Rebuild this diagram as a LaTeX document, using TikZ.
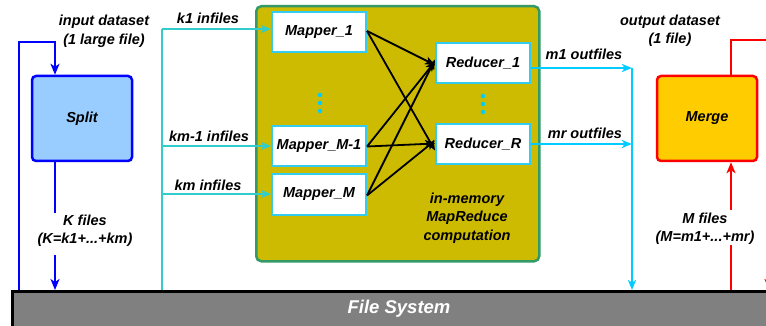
\documentclass[tikz,border=0pt]{standalone}
\usepackage{fontspec}
\setmainfont{Liberation Sans}
\usetikzlibrary{arrows.meta}

\definecolor{splitblue}{HTML}{0000FF}
\definecolor{splitfill}{HTML}{99CCFF}
\definecolor{infile}{HTML}{33CCCC}
\definecolor{outfile}{HTML}{00CCFF}
\definecolor{mrfill}{HTML}{CCBB00}
\definecolor{mrborder}{HTML}{339966}
\definecolor{taskborder}{HTML}{33CCEE}
\definecolor{mergefill}{HTML}{FFCC00}
\definecolor{mergered}{HTML}{FF0000}
\definecolor{fsgray}{HTML}{808080}

\tikzset{
  txt/.style={font=\fontsize{14.5}{18.5}\selectfont\bfseries\itshape, align=center, inner sep=0pt},
  stagebox/.style={rectangle, rounded corners=4pt, line width=2.5pt, minimum width=100pt, minimum height=85pt, txt},
  taskbox/.style={rectangle, draw=taskborder, fill=white, line width=2pt, minimum width=94pt, minimum height=40pt, txt},
  tip/.style={-{Stealth[length=11pt,width=9pt,inset=3pt]}},
  smalltip/.style={-{Stealth[length=10pt,width=8pt,inset=2.5pt]}},
  bluewire/.style={draw=splitblue, line width=2.2pt},
  inwire/.style={draw=infile, line width=2pt},
  outwire/.style={draw=outfile, line width=2pt},
  redwire/.style={draw=mergered, line width=2.5pt},
  shuffle/.style={draw=black, line width=1.8pt, smalltip},
  dotmark/.style={circle, fill=outfile, inner sep=0pt, minimum size=4.5pt},
}

\begin{document}
\begin{tikzpicture}[x=1pt,y=-1pt]
\useasboundingbox (0,0) rectangle (766,326);
\clip (0,0) rectangle (766,326);

% file system bar
\node[draw=black, fill=fsgray, line width=2.5pt, minimum width=790pt, minimum height=40pt,
      anchor=north west, inner sep=0pt] (fs) at (11,290) {};
\node[font=\fontsize{18.5}{20}\selectfont\bfseries\itshape, text=white, inner sep=0pt] (fslabel) at (399,309) {File System};

% in-memory computation area
\node[draw=mrborder, fill=mrfill, line width=2.5pt, rounded corners=5pt, minimum width=283pt,
      minimum height=255pt, anchor=north west, inner sep=0pt] (mr) at (255,5) {};
\node[txt] (mrlabel) at (467,218) {in-memory\\MapReduce\\computation};

% split and merge stages
\node[stagebox, draw=splitblue, fill=splitfill] (split) at (82,118.5) {Split};
\node[stagebox, draw=mergered, fill=mergefill] (merge) at (707,118.5) {Merge};

% mappers and reducers
\node[taskbox] (m1) at (319,32) {Mapper\_1};
\node[taskbox] (mm1) at (319,146.5) {Mapper\_M-1};
\node[taskbox] (mm) at (319,194.5) {Mapper\_M};
\node[taskbox] (r1) at (483,63.5) {Reducer\_1};
\node[taskbox] (rr) at (483,144.5) {Reducer\_R};

\node[dotmark] (md1) at (320,95) {};
\node[dotmark] (md2) at (320,103) {};
\node[dotmark] (md3) at (320,111) {};
\node[dotmark] (rd1) at (483,96) {};
\node[dotmark] (rd2) at (483,104) {};
\node[dotmark] (rd3) at (483,112) {};

% shuffle connections
\draw[shuffle] ([yshift=1pt]m1.east) -- ([yshift=-1.5pt]r1.west);
\draw[shuffle] ([yshift=1pt]m1.east) -- ([yshift=-6pt]rr.west);
\draw[shuffle] (mm1.east) -- ([yshift=2pt]r1.west);
\draw[shuffle] (mm1.east) -- ([yshift=1pt]rr.west);
\draw[shuffle] ([yshift=-1pt]mm.east) -- ([yshift=4pt]r1.west);
\draw[shuffle] ([yshift=-1pt]mm.east) -- ([yshift=4pt]rr.west);

% input side
\coordinate (bl0) at (19,290);
\coordinate (bl1) at (19,42);
\coordinate (bl2) at (55,42);
\draw[bluewire, tip] (bl0) -- (bl1) -- (bl2) -- (split.north -| bl2);
\node[txt] (inlabel) at (104,31.5) {input dataset\\(1 large file)};

\coordinate (kf0) at (55,213);
\coordinate (kf1) at (55,255);
\coordinate (kf2) at (55,290);
\draw[bluewire] (split.south -| kf0) -- (kf0);
\draw[bluewire, tip] (kf1) -- (kf2);
\node[txt] (klabel) at (85,231) {K files\\(K=k1+...+km)};

\coordinate (in0) at (162,290);
\coordinate (in1) at (162,29);
\draw[inwire] (in0) -- (in1);
\draw[inwire, smalltip] (in1) -- (m1.west |- in1);
\coordinate (in2) at (162,146);
\draw[inwire, smalltip] (in2) -- (mm1.west |- in2);
\coordinate (in3) at (162,194);
\draw[inwire, smalltip] (in3) -- (mm.west |- in3);
\node[txt] (k1label) at (208,18) {k1 infiles};
\node[txt] (kmm1label) at (209,136) {km-1 infiles};
\node[txt] (kmlabel) at (208,185) {km infiles};

% output side
\coordinate (out1) at (632,68);
\coordinate (out2) at (632,144);
\coordinate (out3) at (632,290);
\draw[outwire, smalltip] (r1.east |- out1) -- (out1);
\draw[outwire, smalltip] (rr.east |- out2) -- (out2);
\draw[outwire, smalltip] (out1) -- (out3);
\node[txt] (m1label) at (584,54) {m1 outfiles};
\node[txt] (mrlabel2) at (585,133) {mr outfiles};

\coordinate (rf0) at (731,290);
\coordinate (rf1) at (731,245);
\coordinate (rf2) at (731,210);
\draw[redwire] (rf0) -- (rf1);
\draw[redwire, tip] (rf2) -- (merge.south -| rf2);
\node[txt] (mlabel) at (705,229) {M files\\(M=m1+...+mr)};

\coordinate (od0) at (731,40);
\coordinate (od1) at (769,40);
\coordinate (od2) at (769,290);
\draw[redwire, tip] (merge.north -| od0) -- (od0) -- (od1) -- (od2);
\node[txt] (outlabel) at (670,31) {output dataset\\(1 file)};

\end{tikzpicture}
\end{document}
